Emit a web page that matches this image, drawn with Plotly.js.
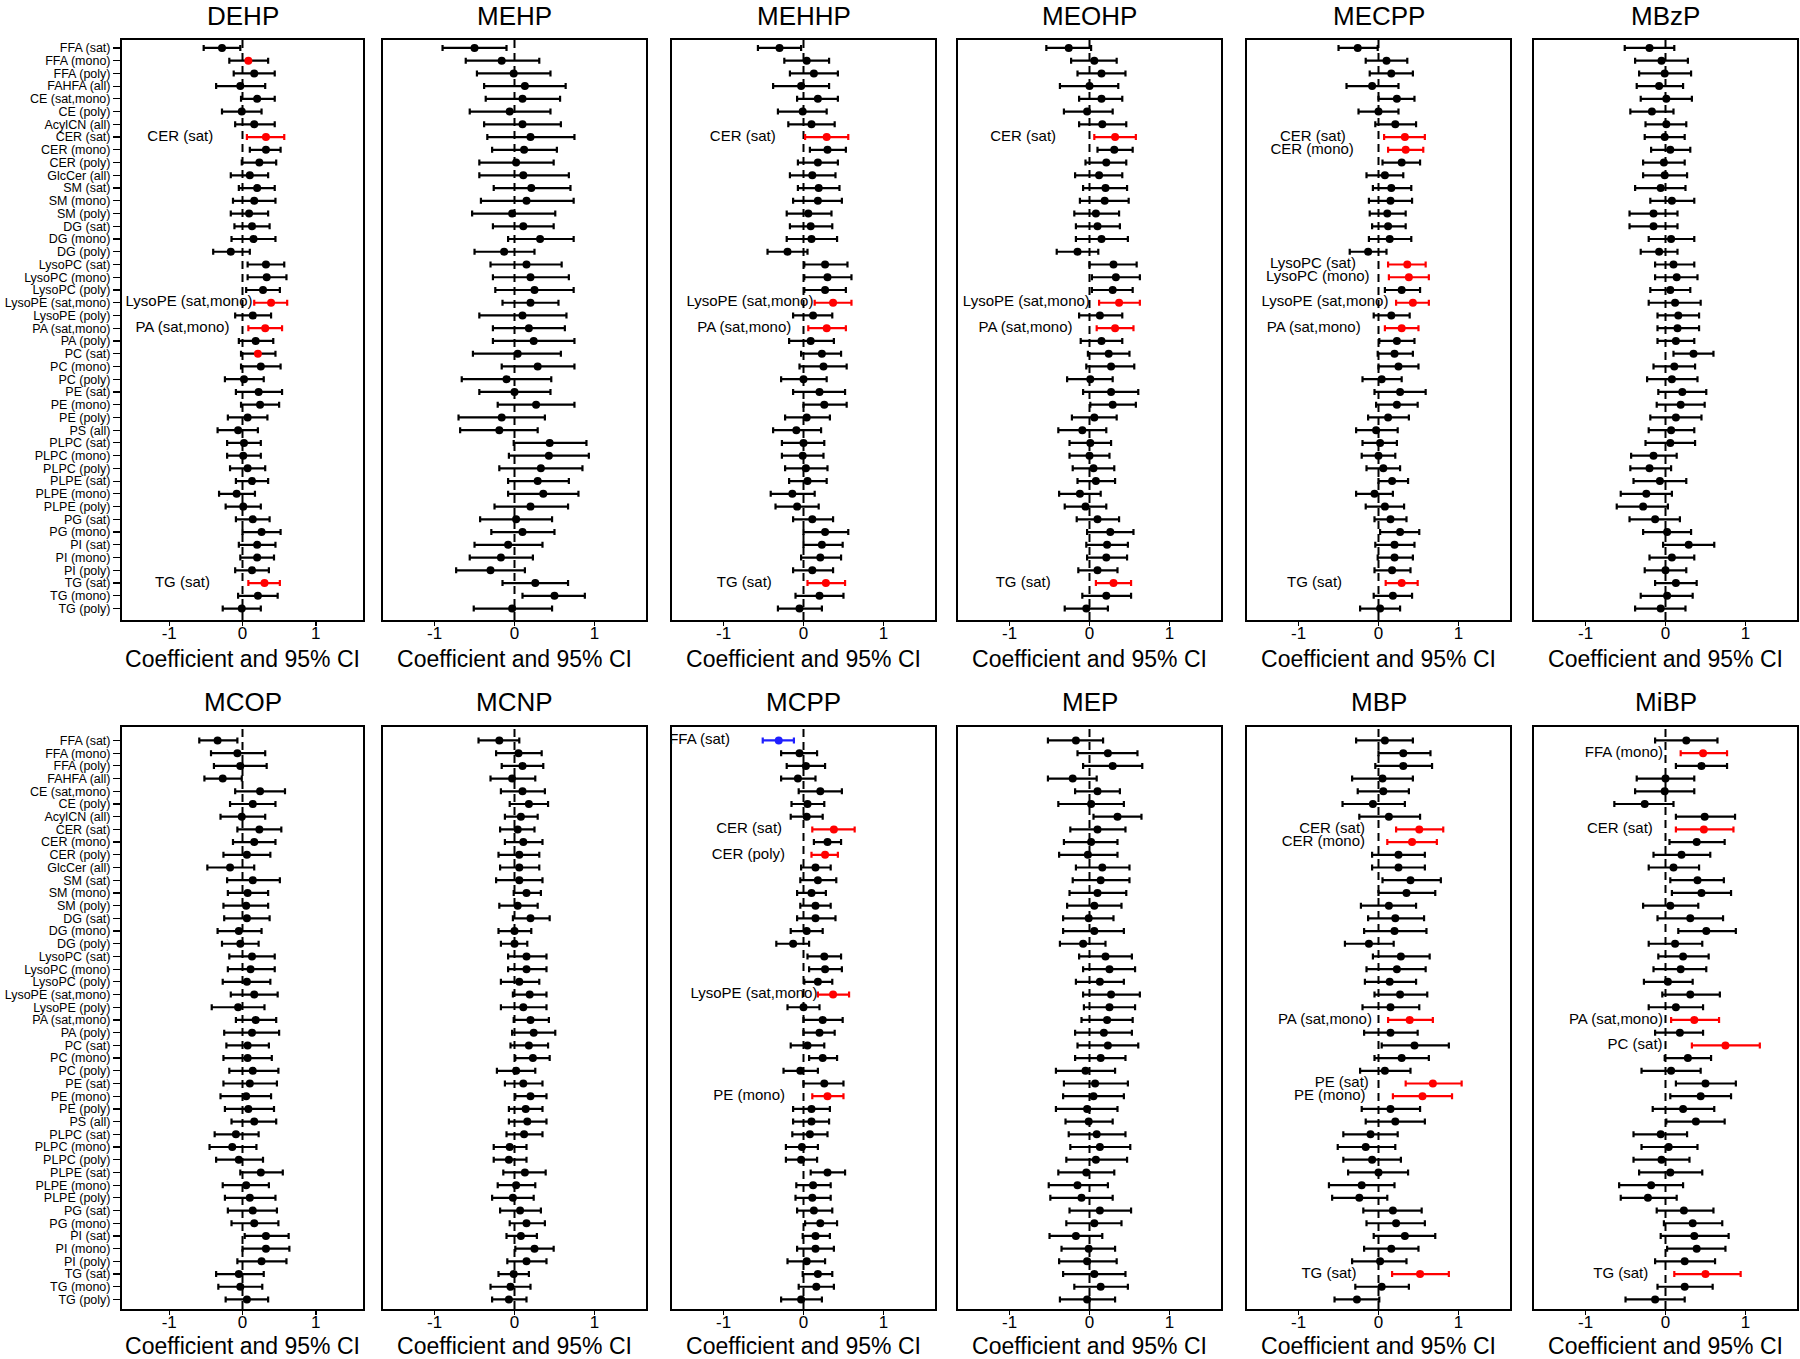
<!DOCTYPE html>
<html><head><meta charset="utf-8">
<script src="https://cdn.plot.ly/plotly-3.0.1.min.js"></script>
<style>html,body{margin:0;padding:0;background:#fff}#chart{width:1800px;height:1359px}</style>
</head><body><div id="chart"></div>
<script>
const categories = [
 'FFA (sat)','FFA (mono)','FFA (poly)','FAHFA (all)','CE (sat,mono)',
 'CE (poly)','AcylCN (all)','CER (sat)','CER (mono)','CER (poly)',
 'GlcCer (all)','SM (sat)','SM (mono)','SM (poly)','DG (sat)',
 'DG (mono)','DG (poly)','LysoPC (sat)','LysoPC (mono)','LysoPC (poly)',
 'LysoPE (sat,mono)','LysoPE (poly)','PA (sat,mono)','PA (poly)','PC (sat)',
 'PC (mono)','PC (poly)','PE (sat)','PE (mono)','PE (poly)',
 'PS (all)','PLPC (sat)','PLPC (mono)','PLPC (poly)','PLPE (sat)',
 'PLPE (mono)','PLPE (poly)','PG (sat)','PG (mono)','PI (sat)',
 'PI (mono)','PI (poly)','TG (sat)','TG (mono)','TG (poly)'];

const panels = ['DEHP','MEHP','MEHHP','MEOHP','MECPP','MBzP','MCOP','MCNP','MCPP','MEP','MBP','MiBP'];
const xTickVals = [-1, 0, 1];
const xTickText = ['-1', '0', '1'];
const xAxisTitle = 'Coefficient and 95% CI';

const est_DEHP = [-0.28,0.08,0.16,-0.03,0.20, -0.01,0.16,0.32,0.32,0.23, 0.10,0.20,0.16,0.09,0.13, 0.15,-0.16,0.32,0.33,0.28, 0.39,0.14,0.31,0.18,0.21, 0.25,0.02,0.22,0.24,0.07, -0.06,0.02,0.01,0.07,0.13, -0.08,0.01,0.14,0.26,0.20, 0.20,0.13,0.30,0.21,-0.01];
const lo_DEHP  = [-0.53,-0.18,-0.12,-0.36,-0.02, -0.28,-0.10,0.06,0.10,-0.01, -0.16,-0.05,-0.13,-0.16,-0.11, -0.15,-0.40,0.07,0.07,0.05, 0.16,-0.10,0.08,-0.05,-0.02, -0.02,-0.24,-0.09,-0.02,-0.20, -0.34,-0.21,-0.21,-0.17,-0.09, -0.32,-0.23,-0.09,0.00,-0.05, -0.03,-0.10,0.08,-0.06,-0.27];
const hi_DEHP  = [-0.03,0.35,0.44,0.31,0.44, 0.26,0.44,0.57,0.52,0.46, 0.35,0.44,0.45,0.35,0.37, 0.45,0.10,0.57,0.60,0.51, 0.61,0.39,0.54,0.42,0.45, 0.52,0.29,0.54,0.50,0.34, 0.21,0.25,0.25,0.31,0.35, 0.17,0.25,0.37,0.52,0.45, 0.43,0.36,0.51,0.48,0.25];

const est_MEHP = [-0.50,-0.16,-0.01,0.13,0.10, -0.06,0.10,0.20,0.12,0.02, 0.11,0.21,0.15,-0.03,0.11, 0.32,-0.13,0.15,0.20,0.25, 0.20,0.10,0.18,0.24,0.04, 0.29,-0.10,0.00,0.27,-0.16, -0.19,0.44,0.43,0.33,0.29, 0.36,0.20,0.02,0.10,-0.08, -0.17,-0.30,0.26,0.50,-0.03];
const lo_MEHP  = [-0.90,-0.61,-0.47,-0.38,-0.36, -0.56,-0.38,-0.34,-0.28,-0.44, -0.44,-0.26,-0.42,-0.53,-0.27, -0.08,-0.50,-0.30,-0.27,-0.24, -0.15,-0.44,-0.27,-0.27,-0.52, -0.16,-0.66,-0.44,-0.21,-0.70, -0.68,-0.01,-0.07,-0.19,-0.08, -0.08,-0.25,-0.43,-0.29,-0.50, -0.56,-0.73,-0.15,0.10,-0.51];
const hi_MEHP  = [-0.10,0.31,0.45,0.64,0.57, 0.45,0.58,0.75,0.53,0.49, 0.68,0.70,0.74,0.51,0.49, 0.74,0.25,0.59,0.68,0.74, 0.55,0.65,0.63,0.75,0.58, 0.75,0.46,0.45,0.75,0.38, 0.29,0.90,0.93,0.85,0.68, 0.80,0.67,0.47,0.50,0.35, 0.23,0.13,0.67,0.88,0.47];

const est_MEHHP = [-0.30,0.04,0.13,-0.03,0.18, -0.01,0.10,0.29,0.30,0.18, 0.11,0.19,0.18,0.06,0.09, 0.10,-0.20,0.27,0.30,0.27, 0.37,0.12,0.29,0.09,0.23, 0.25,0.00,0.20,0.26,0.04, -0.09,0.00,-0.01,0.03,0.05, -0.14,-0.08,0.11,0.27,0.23, 0.21,0.11,0.28,0.20,-0.05];
const lo_MEHHP  = [-0.57,-0.24,-0.17,-0.38,-0.08, -0.32,-0.19,0.02,0.08,-0.07, -0.17,-0.07,-0.13,-0.21,-0.17, -0.21,-0.45,0.01,0.01,0.01, 0.14,-0.13,0.06,-0.18,-0.03, -0.05,-0.28,-0.13,0.00,-0.23, -0.38,-0.27,-0.27,-0.23,-0.18, -0.41,-0.35,-0.13,0.00,0.00, -0.03,-0.13,0.05,-0.10,-0.32];
const hi_MEHHP  = [-0.03,0.32,0.43,0.32,0.43, 0.29,0.39,0.56,0.53,0.43, 0.40,0.45,0.48,0.35,0.36, 0.42,0.05,0.55,0.60,0.53, 0.60,0.36,0.53,0.38,0.47, 0.54,0.29,0.52,0.54,0.33, 0.22,0.26,0.25,0.30,0.29, 0.14,0.19,0.37,0.56,0.49, 0.47,0.37,0.52,0.50,0.23];

const est_MEOHP = [-0.26,0.06,0.15,0.00,0.15, -0.03,0.16,0.32,0.31,0.21, 0.12,0.20,0.19,0.08,0.10, 0.15,-0.15,0.30,0.33,0.29, 0.37,0.13,0.32,0.15,0.24, 0.27,0.01,0.27,0.29,0.06, -0.09,0.01,0.00,0.05,0.08, -0.12,-0.05,0.10,0.26,0.22, 0.21,0.10,0.30,0.21,-0.04];
const lo_MEOHP  = [-0.54,-0.23,-0.15,-0.37,-0.13, -0.32,-0.13,0.06,0.10,-0.05, -0.18,-0.08,-0.12,-0.19,-0.17, -0.17,-0.41,0.00,0.03,0.03, 0.12,-0.13,0.09,-0.11,-0.02, -0.04,-0.28,-0.08,0.01,-0.22, -0.39,-0.25,-0.25,-0.21,-0.15, -0.38,-0.31,-0.16,-0.03,-0.04, -0.03,-0.14,0.08,-0.09,-0.31];
const hi_MEOHP  = [0.02,0.34,0.45,0.36,0.41, 0.29,0.46,0.58,0.54,0.46, 0.41,0.47,0.49,0.37,0.38, 0.48,0.11,0.59,0.63,0.54, 0.63,0.41,0.55,0.41,0.50, 0.56,0.29,0.61,0.58,0.34, 0.21,0.27,0.25,0.31,0.32, 0.14,0.21,0.37,0.55,0.48, 0.47,0.35,0.52,0.52,0.23];

const est_MECPP = [-0.26,0.10,0.16,-0.08,0.23, 0.00,0.21,0.33,0.34,0.29, 0.08,0.16,0.15,0.11,0.12, 0.14,-0.13,0.36,0.38,0.29, 0.43,0.16,0.29,0.23,0.20, 0.25,0.04,0.27,0.23,0.12, -0.03,0.02,0.00,0.06,0.17, -0.05,0.08,0.15,0.27,0.20, 0.20,0.17,0.29,0.18,0.02];
const lo_MECPP  = [-0.50,-0.16,-0.11,-0.40,0.00, -0.25,-0.04,0.07,0.12,0.05, -0.15,-0.07,-0.12,-0.11,-0.08, -0.12,-0.36,0.12,0.13,0.08, 0.22,-0.06,0.08,0.01,-0.01, 0.00,-0.20,-0.05,-0.03,-0.13, -0.28,-0.20,-0.21,-0.15,0.00, -0.28,-0.16,-0.05,0.02,-0.04, -0.01,-0.05,0.09,-0.06,-0.23];
const hi_MECPP  = [-0.01,0.36,0.43,0.25,0.45, 0.25,0.47,0.58,0.56,0.52, 0.31,0.41,0.42,0.34,0.34, 0.41,0.10,0.59,0.63,0.52, 0.63,0.39,0.50,0.45,0.43, 0.50,0.29,0.59,0.49,0.38, 0.24,0.23,0.21,0.27,0.37, 0.18,0.32,0.35,0.51,0.45, 0.43,0.40,0.49,0.42,0.27];

const est_MBzP = [-0.20,-0.05,-0.01,-0.08,0.01, -0.17,0.01,-0.01,0.06,-0.02, -0.01,-0.06,0.08,-0.15,-0.15, 0.07,-0.08,0.10,0.14,0.06, 0.12,0.16,0.15,0.13,0.35, 0.11,0.08,0.21,0.19,0.13, 0.07,0.06,-0.15,-0.20,-0.07, -0.24,-0.28,-0.13,0.02,0.29, 0.08,0.00,0.13,0.02,-0.06];
const lo_MBzP  = [-0.51,-0.38,-0.33,-0.36,-0.31, -0.44,-0.25,-0.26,-0.18,-0.28, -0.28,-0.38,-0.19,-0.45,-0.45, -0.21,-0.31,-0.13,-0.13,-0.19, -0.21,-0.10,-0.10,-0.10,0.10, -0.15,-0.23,-0.09,-0.11,-0.19, -0.21,-0.25,-0.43,-0.44,-0.40, -0.56,-0.61,-0.45,-0.28,-0.03, -0.20,-0.26,-0.13,-0.31,-0.38];
const hi_MBzP  = [0.11,0.28,0.32,0.22,0.33, 0.10,0.26,0.24,0.31,0.24, 0.27,0.25,0.36,0.15,0.15, 0.36,0.15,0.36,0.40,0.31, 0.44,0.42,0.42,0.36,0.60, 0.37,0.40,0.51,0.49,0.45, 0.36,0.37,0.14,0.07,0.26, 0.08,0.03,0.18,0.32,0.61, 0.36,0.26,0.39,0.34,0.25];

const est_MCOP = [-0.34,-0.07,-0.03,-0.27,0.24, 0.14,-0.01,0.23,0.16,0.06, -0.17,0.14,0.07,0.05,0.06, -0.05,-0.03,0.13,0.11,0.06, 0.16,-0.06,0.18,0.13,0.07, 0.07,0.14,0.10,0.05,0.08, 0.16,-0.09,-0.14,-0.05,0.25, 0.05,0.10,0.14,0.16,0.32, 0.32,0.26,-0.05,-0.03,0.06];
const lo_MCOP  = [-0.59,-0.43,-0.39,-0.52,-0.10, -0.17,-0.30,-0.07,-0.13,-0.26, -0.48,-0.21,-0.20,-0.26,-0.25, -0.34,-0.28,-0.18,-0.20,-0.27, -0.16,-0.42,-0.09,-0.25,-0.22, -0.26,-0.18,-0.26,-0.30,-0.24, -0.15,-0.38,-0.45,-0.36,-0.03, -0.27,-0.24,-0.20,-0.15,0.03, 0.00,-0.07,-0.36,-0.33,-0.23];
const hi_MCOP  = [-0.07,0.31,0.33,-0.01,0.58, 0.45,0.31,0.53,0.45,0.38, 0.16,0.51,0.35,0.35,0.37, 0.26,0.22,0.44,0.44,0.38, 0.48,0.30,0.46,0.50,0.36, 0.40,0.49,0.47,0.39,0.43, 0.46,0.22,0.19,0.28,0.55, 0.36,0.45,0.47,0.49,0.63, 0.64,0.60,0.29,0.27,0.35];

const est_MCNP = [-0.19,0.05,0.10,-0.03,0.10, 0.18,0.08,0.04,0.11,0.06, 0.06,0.06,0.15,0.04,0.20, 0.00,0.00,0.15,0.15,0.06, 0.19,0.11,0.20,0.24,0.18, 0.23,0.02,0.11,0.20,0.14, 0.16,0.12,-0.06,-0.07,0.13, 0.02,-0.02,0.07,0.15,0.08, 0.25,0.15,-0.01,-0.05,-0.07];
const lo_MCNP  = [-0.45,-0.23,-0.16,-0.30,-0.17, -0.06,-0.12,-0.18,-0.12,-0.20, -0.18,-0.23,-0.01,-0.19,-0.02, -0.20,-0.17,-0.08,-0.08,-0.17, -0.02,-0.17,-0.01,-0.03,-0.05, 0.01,-0.22,-0.12,0.01,-0.07, -0.07,-0.10,-0.26,-0.26,-0.14, -0.21,-0.28,-0.18,-0.06,-0.10, 0.01,-0.09,-0.20,-0.30,-0.28];
const hi_MCNP  = [0.06,0.34,0.36,0.26,0.38, 0.42,0.29,0.25,0.35,0.31, 0.31,0.35,0.33,0.29,0.44, 0.21,0.16,0.40,0.40,0.31, 0.40,0.40,0.43,0.51,0.42, 0.44,0.26,0.35,0.40,0.35, 0.40,0.35,0.15,0.15,0.39, 0.26,0.24,0.33,0.38,0.28, 0.49,0.40,0.18,0.20,0.15];

const est_MCPP = [-0.31,-0.05,0.03,-0.07,0.21, 0.05,0.04,0.38,0.30,0.27, 0.15,0.18,0.10,0.15,0.15, 0.04,-0.13,0.26,0.27,0.18, 0.37,0.00,0.24,0.20,0.05, 0.24,-0.04,0.26,0.30,0.10, 0.10,0.08,-0.02,-0.03,0.30, 0.12,0.11,0.13,0.21,0.15, 0.15,0.04,0.18,0.16,-0.03];
const lo_MCPP  = [-0.51,-0.28,-0.21,-0.28,-0.06, -0.15,-0.16,0.11,0.13,0.10, -0.03,-0.04,-0.08,-0.04,-0.08, -0.16,-0.34,0.05,0.07,0.01, 0.18,-0.20,0.00,0.00,-0.16, 0.07,-0.25,0.00,0.11,-0.13, -0.13,-0.14,-0.22,-0.22,0.09, -0.09,-0.10,-0.08,0.02,-0.01, -0.08,-0.20,-0.01,-0.06,-0.28];
const hi_MCPP  = [-0.12,0.17,0.27,0.15,0.48, 0.26,0.24,0.64,0.47,0.43, 0.34,0.41,0.28,0.34,0.40, 0.24,0.07,0.47,0.48,0.36, 0.57,0.20,0.49,0.39,0.26, 0.42,0.18,0.50,0.50,0.33, 0.32,0.30,0.18,0.17,0.52, 0.34,0.34,0.36,0.42,0.33, 0.38,0.27,0.36,0.38,0.23];

const est_MEP = [-0.17,0.23,0.29,-0.21,0.10, 0.02,0.35,0.10,0.02,-0.02, 0.16,0.14,0.10,0.06,-0.01, 0.06,-0.08,0.20,0.25,0.13, 0.27,0.25,0.22,0.18,0.23, 0.14,-0.05,0.07,0.05,-0.03, -0.01,0.09,0.13,0.08,-0.04, -0.15,-0.10,0.13,0.06,-0.17, -0.01,-0.03,0.06,0.14,-0.03];
const lo_MEP  = [-0.52,-0.15,-0.08,-0.52,-0.18, -0.39,0.05,-0.24,-0.32,-0.38, -0.17,-0.21,-0.25,-0.28,-0.33, -0.33,-0.37,-0.13,-0.08,-0.17, -0.08,-0.07,-0.10,-0.18,-0.15, -0.18,-0.42,-0.32,-0.33,-0.42, -0.30,-0.26,-0.24,-0.29,-0.39, -0.51,-0.49,-0.25,-0.29,-0.50, -0.35,-0.38,-0.33,-0.19,-0.37];
const hi_MEP  = [0.17,0.60,0.66,0.09,0.38, 0.43,0.65,0.45,0.35,0.35, 0.50,0.50,0.46,0.40,0.30, 0.43,0.20,0.53,0.57,0.43, 0.63,0.57,0.54,0.53,0.61, 0.45,0.32,0.48,0.43,0.35, 0.29,0.45,0.51,0.47,0.31, 0.23,0.29,0.52,0.40,0.16, 0.32,0.34,0.45,0.48,0.32];

const est_MBP = [0.08,0.31,0.31,0.05,0.06, -0.07,0.13,0.51,0.42,0.25, 0.25,0.40,0.35,0.13,0.21, 0.20,-0.12,0.28,0.23,0.14, 0.27,0.15,0.39,0.15,0.45, 0.29,0.08,0.68,0.55,0.15, 0.21,-0.10,-0.16,-0.08,0.00, -0.21,-0.24,0.18,0.22,0.33, 0.16,0.02,0.52,0.04,-0.27];
const lo_MBP  = [-0.28,0.00,-0.04,-0.33,-0.26, -0.45,-0.24,0.22,0.11,-0.08, -0.08,0.05,0.00,-0.22,-0.13, -0.18,-0.42,-0.07,-0.15,-0.17, -0.05,-0.20,0.12,-0.18,0.04, -0.05,-0.23,0.34,0.18,-0.21, -0.16,-0.44,-0.51,-0.44,-0.38, -0.62,-0.58,-0.19,-0.15,-0.06, -0.18,-0.33,0.17,-0.29,-0.55];
const hi_MBP  = [0.43,0.65,0.67,0.43,0.38, 0.33,0.52,0.81,0.73,0.58, 0.58,0.78,0.71,0.47,0.57, 0.60,0.19,0.64,0.59,0.47, 0.61,0.51,0.68,0.49,0.88, 0.63,0.40,1.04,0.92,0.52, 0.58,0.24,0.21,0.28,0.37, 0.20,0.11,0.54,0.58,0.71, 0.50,0.35,0.88,0.38,0.01];

const est_MiBP = [0.26,0.47,0.45,0.00,-0.01, -0.26,0.49,0.48,0.39,0.20, 0.10,0.40,0.45,0.06,0.31, 0.51,0.12,0.22,0.19,0.03, 0.31,0.13,0.36,0.18,0.75, 0.28,0.07,0.50,0.44,0.22, 0.38,-0.06,0.04,-0.05,0.06, -0.18,-0.22,0.23,0.34,0.36, 0.39,0.24,0.50,0.24,-0.13];
const lo_MiBP  = [-0.13,0.19,0.13,-0.36,-0.38, -0.64,0.13,0.13,0.05,-0.15, -0.21,0.06,0.08,-0.28,-0.10, 0.16,-0.21,-0.09,-0.15,-0.27, -0.04,-0.21,0.07,-0.13,0.33, -0.01,-0.30,0.13,0.06,-0.16, 0.01,-0.40,-0.30,-0.40,-0.33, -0.58,-0.56,-0.11,-0.02,-0.06, 0.02,-0.13,0.11,-0.10,-0.50];
const hi_MiBP  = [0.65,0.77,0.77,0.36,0.36, 0.10,0.87,0.85,0.74,0.56, 0.42,0.73,0.82,0.41,0.72, 0.88,0.46,0.54,0.51,0.34, 0.68,0.47,0.67,0.47,1.18, 0.57,0.44,0.88,0.82,0.61, 0.74,0.27,0.40,0.30,0.46, 0.22,0.14,0.60,0.71,0.79, 0.75,0.62,0.94,0.59,0.24];

// significant associations (labelled)
const sigPos = {
  DEHP: ['CER (sat)','LysoPE (sat,mono)','PA (sat,mono)','TG (sat)'],
  MEHHP: ['CER (sat)','LysoPE (sat,mono)','PA (sat,mono)','TG (sat)'],
  MEOHP: ['CER (sat)','LysoPE (sat,mono)','PA (sat,mono)','TG (sat)'],
  MECPP: ['CER (sat)','CER (mono)','LysoPC (sat)','LysoPC (mono)','LysoPE (sat,mono)','PA (sat,mono)','TG (sat)'],
  MCPP: ['CER (sat)','CER (poly)','LysoPE (sat,mono)','PE (mono)'],
  MBP: ['CER (sat)','CER (mono)','PA (sat,mono)','PE (sat)','PE (mono)','TG (sat)'],
  MiBP: ['FFA (mono)','CER (sat)','PA (sat,mono)','PC (sat)','TG (sat)']
};
const sigNeg = { MCPP: ['FFA (sat)'] };
const redDotOnly = { DEHP: ['FFA (mono)','PC (sat)'] };

// ---- layout / style settings ----
const labelX = {
  DEHP: {'CER (sat)':-0.85,'LysoPE (sat,mono)':-0.73,'PA (sat,mono)':-0.82,'TG (sat)':-0.82},
  MEHHP: {'CER (sat)':-0.76,'LysoPE (sat,mono)':-0.67,'PA (sat,mono)':-0.74,'TG (sat)':-0.74},
  MEOHP: {'CER (sat)':-0.83,'LysoPE (sat,mono)':-0.79,'PA (sat,mono)':-0.80,'TG (sat)':-0.83},
  MECPP: {'CER (sat)':-0.82,'CER (mono)':-0.83,'LysoPC (sat)':-0.82,'LysoPC (mono)':-0.76,'LysoPE (sat,mono)':-0.67,'PA (sat,mono)':-0.81,'TG (sat)':-0.80},
  MCPP: {'FFA (sat)':-1.30,'CER (sat)':-0.68,'CER (poly)':-0.69,'LysoPE (sat,mono)':-0.62,'PE (mono)':-0.68},
  MBP: {'CER (sat)':-0.58,'CER (mono)':-0.69,'PA (sat,mono)':-0.67,'PE (sat)':-0.46,'PE (mono)':-0.61,'TG (sat)':-0.62},
  MiBP: {'FFA (mono)':-0.52,'CER (sat)':-0.57,'PA (sat,mono)':-0.62,'PC (sat)':-0.38,'TG (sat)':-0.56}
};
const W = 1800, H = 1359;
const colPx = [[122,363],[383,646],[672,935],[958,1221],[1247,1510],[1534,1797]];
const rowPx = [[40,620],[727,1309]];
const rowRange = [[44.9,-0.62],[44.75,-1.06]];
const titleY = [16, 702];
const xRange = [-1.645, 1.645];
const FONT = 'Liberation Sans, Arial, Helvetica, sans-serif';
const RED = '#ff0000', BLUE = '#1f1fff', BLACK = '#000000';

const panelData = {
  DEHP:[est_DEHP,lo_DEHP,hi_DEHP], MEHP:[est_MEHP,lo_MEHP,hi_MEHP],
  MEHHP:[est_MEHHP,lo_MEHHP,hi_MEHHP], MEOHP:[est_MEOHP,lo_MEOHP,hi_MEOHP],
  MECPP:[est_MECPP,lo_MECPP,hi_MECPP], MBzP:[est_MBzP,lo_MBzP,hi_MBzP],
  MCOP:[est_MCOP,lo_MCOP,hi_MCOP], MCNP:[est_MCNP,lo_MCNP,hi_MCNP],
  MCPP:[est_MCPP,lo_MCPP,hi_MCPP], MEP:[est_MEP,lo_MEP,hi_MEP],
  MBP:[est_MBP,lo_MBP,hi_MBP], MiBP:[est_MiBP,lo_MiBP,hi_MiBP]
};

const traces = [], shapes = [], annotations = [];
const layout = {
  width: W, height: H, margin: {l:0, r:0, t:0, b:0},
  paper_bgcolor: '#fff', plot_bgcolor: '#fff',
  showlegend: false, font: {family: FONT, color: '#000'}
};

panels.forEach((name, k) => {
  const r = Math.floor(k / 6), c = k % 6;
  const id = k === 0 ? '' : String(k + 1);
  const xa = 'x' + id, ya = 'y' + id;
  const [est, lo, hi] = panelData[name];
  if (est.length !== 45 || lo.length !== 45 || hi.length !== 45) throw new Error('length ' + name);
  const pos = sigPos[name] || [], neg = sigNeg[name] || [], dot = redDotOnly[name] || [];

  const groups = [
    {sel: i => !pos.includes(categories[i]) && !neg.includes(categories[i]), bar: BLACK},
    {sel: i => pos.includes(categories[i]), bar: RED},
    {sel: i => neg.includes(categories[i]), bar: BLUE}
  ];
  groups.forEach(g => {
    const idx = categories.map((_, i) => i).filter(g.sel);
    if (!idx.length) return;
    traces.push({
      type: 'scatter', mode: 'markers', xaxis: xa, yaxis: ya,
      x: idx.map(i => est[i]), y: idx.map(i => categories[i]),
      error_x: {type: 'data', symmetric: false,
        array: idx.map(i => hi[i] - est[i]), arrayminus: idx.map(i => est[i] - lo[i]),
        color: g.bar, thickness: 2.2, width: 3},
      marker: {size: 8, color: idx.map(i => g.bar === BLACK && dot.includes(categories[i]) ? RED : g.bar)},
      hoverinfo: 'skip', cliponaxis: true
    });
  });

  const lab = labelX[name];
  if (lab) {
    const names = Object.keys(lab);
    traces.push({
      type: 'scatter', mode: 'text', xaxis: xa, yaxis: ya,
      x: names.map(n => lab[n]), y: names, text: names,
      textposition: 'middle center', textfont: {size: 15, color: '#000', family: FONT},
      hoverinfo: 'skip', cliponaxis: true
    });
  }

  const [x0, x1] = colPx[c], [y0, y1] = rowPx[r];
  layout['xaxis' + id] = {
    domain: [x0 / W, x1 / W], anchor: ya, range: xRange,
    tickmode: 'array', tickvals: xTickVals, ticktext: xTickText,
    ticks: 'outside', ticklen: 4, tickwidth: 1.5, tickcolor: '#000',
    ticklabelstandoff: -7,
    tickfont: {size: 17, family: FONT, color: '#000'},
    showgrid: false, zeroline: false, showline: true, mirror: true,
    linewidth: 2, linecolor: '#000', fixedrange: true,
    title: {text: xAxisTitle, font: {size: 23, family: FONT, color: '#000'}, standoff: 8}
  };
  layout['yaxis' + id] = {
    domain: [1 - y1 / H, 1 - y0 / H], anchor: xa,
    type: 'category', categoryorder: 'array', categoryarray: categories,
    range: rowRange[r],
    tickmode: 'array', tickvals: categories, ticktext: categories,
    showticklabels: c === 0, ticks: c === 0 ? 'outside' : '', ticklen: 7, tickwidth: 1.2, tickcolor: '#000',
    tickfont: {size: 12.5, family: FONT, color: '#000'},
    showgrid: false, zeroline: false, showline: true, mirror: true,
    linewidth: 2, linecolor: '#000', fixedrange: true
  };
  shapes.push({type: 'line', xref: xa, yref: ya + ' domain', x0: 0, x1: 0, y0: 0, y1: 1,
    line: {color: '#000', width: 2, dash: '8px,5px'}, layer: 'below'});
  annotations.push({text: name, xref: 'paper', yref: 'paper',
    x: (x0 + x1) / 2 / W, y: 1 - titleY[r] / H, xanchor: 'center', yanchor: 'middle',
    showarrow: false, font: {size: 26, family: FONT, color: '#000'}});
});
layout.shapes = shapes;
layout.annotations = annotations;
Plotly.newPlot('chart', traces, layout, {displayModeBar: false, staticPlot: true});
</script>
</body></html>
